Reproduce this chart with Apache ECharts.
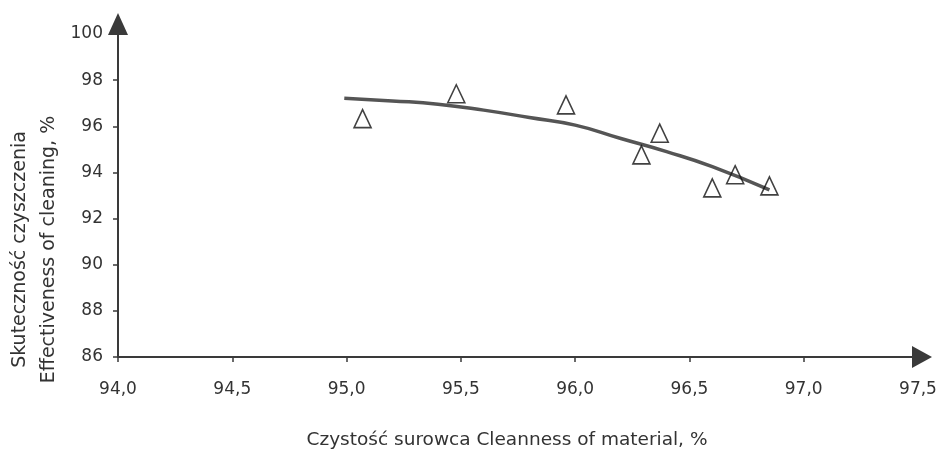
<!DOCTYPE html>
<html lang="pl" style="height: 100%">
<head>
<meta charset="utf-8">
<style>
  body { margin: 0; height: 100%; background: #fff; }
  #container { width: 943px; height: 452px; }
</style>
</head>
<body>
<div id="container"></div>
<script src="https://cdn.jsdelivr.net/npm/echarts@6/dist/echarts.min.js"></script>
<script>
// pomiary (trojkaty)
var pointsX = [95.07, 95.48, 95.96, 96.37, 96.29, 96.60, 96.70, 96.85];
var pointsY = [96.33, 97.41, 96.93, 95.70, 94.76, 93.33, 93.90, 93.42];

// linia trendu
var trendX = [94.99, 95.2, 95.4, 95.6, 95.8, 96.0, 96.2, 96.4, 96.6, 96.85];
var trendY = [97.22, 97.10, 96.96, 96.70, 96.38, 96.05, 95.47, 94.90, 94.25, 93.24];

var xTitle = 'Czystość surowca Cleanness of material, %';
var yTitle = 'Skuteczność czyszczenia\nEffectiveness of cleaning, %';

var font = 'DejaVu Sans, sans-serif';
var textColor = '#333';

var chart = echarts.init(document.getElementById('container'));

var option = {
  animation: false,
  grid: { left: 118, right: 25, top: 34, bottom: 95, containLabel: false, outerBoundsMode: 'none' },
  xAxis: {
    type: 'value',
    min: 94, max: 97.5, interval: 0.5,
    splitLine: { show: false },
    axisLine: {
      lineStyle: { color: '#3a3a3a', width: 2 },
      symbol: ['none', 'triangle'],
      symbolSize: [22, 20],
      symbolOffset: [0, 4]
    },
    axisTick: { length: 5, lineStyle: { color: '#3a3a3a', width: 1.5 } },
    axisLabel: {
      margin: 24, fontSize: 17, fontFamily: font, color: textColor,
      formatter: function (v) { return v.toFixed(1).replace('.', ','); }
    },
    name: xTitle,
    nameLocation: 'middle',
    nameGap: 74,
    nameMoveOverlap: false,
    nameTextStyle: { fontSize: 18.5, fontFamily: font, color: textColor, padding: [0, 22, 0, 0] }
  },
  yAxis: {
    type: 'value',
    min: 86, max: 100, interval: 2,
    splitLine: { show: false },
    axisLine: {
      lineStyle: { color: '#3a3a3a', width: 2 },
      symbol: ['none', 'triangle'],
      symbolSize: [20, 22],
      symbolOffset: [0, 10]
    },
    axisTick: { length: 5, lineStyle: { color: '#3a3a3a', width: 1.5 } },
    axisLabel: { margin: 15, fontSize: 17, fontFamily: font, color: textColor },
    name: yTitle,
    nameLocation: 'middle',
    nameGap: 54,
    nameRotate: 90,
    nameMoveOverlap: false,
    nameTextStyle: {
      fontSize: 19, fontFamily: font, color: textColor,
      lineHeight: 29, align: 'center', padding: [0, 108, 0, 0]
    }
  },
  series: [
    {
      type: 'line',
      smooth: true,
      showSymbol: false,
      data: trendX.map(function (x, i) { return [x, trendY[i]]; }),
      lineStyle: { color: '#555', width: 3.5 },
      z: 2
    },
    {
      type: 'scatter',
      symbol: 'triangle',
      symbolSize: [17, 18],
      data: pointsX.map(function (x, i) { return [x, pointsY[i]]; }),
      itemStyle: { color: 'rgba(255,255,255,0)', borderColor: '#111', borderWidth: 1.6 },
      z: 3
    }
  ]
};

chart.setOption(option);
window.addEventListener('resize', chart.resize);
</script>
</body>
</html>
